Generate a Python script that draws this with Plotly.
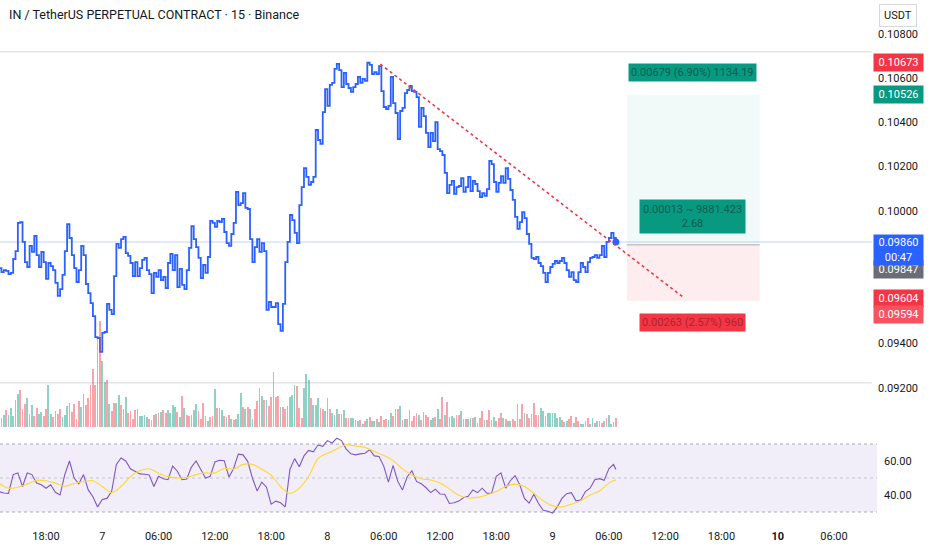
import plotly.graph_objects as go
import pandas as pd

title_text = "IN / TetherUS PERPETUAL CONTRACT · 15 · Binance"

# 15-minute closes
close = [
    0.09742, 0.09724, 0.09733, 0.09729, 0.09715, 0.09720, 0.09783, 0.09819, 0.09946, 0.09950,
    0.09860, 0.09769, 0.09747, 0.09842, 0.09815, 0.09887, 0.09801, 0.09747, 0.09815, 0.09769,
    0.09693, 0.09765, 0.09751, 0.09733, 0.09675, 0.09616, 0.09647, 0.09711, 0.09819, 0.09941,
    0.09878, 0.09801, 0.09742, 0.09679, 0.09733, 0.09842, 0.09801, 0.09670, 0.09629, 0.09584,
    0.09525, 0.09430, 0.09426, 0.09363, 0.09449, 0.09453, 0.09580, 0.09553, 0.09534, 0.09706,
    0.09851, 0.09833, 0.09873, 0.09883, 0.09810, 0.09797, 0.09765, 0.09706, 0.09769, 0.09706,
    0.09742, 0.09779, 0.09788, 0.09733, 0.09715, 0.09629, 0.09720, 0.09702,
    0.09733, 0.09688, 0.09702, 0.09652, 0.09765, 0.09806, 0.09733, 0.09801, 0.09656, 0.09738,
    0.09666, 0.09647, 0.09733, 0.09833, 0.09932, 0.09873, 0.09837, 0.09788, 0.09697, 0.09756,
    0.09720, 0.09792, 0.09955, 0.09946, 0.09928, 0.09955, 0.09950, 0.09964, 0.09905, 0.09855,
    0.09842, 0.09896, 0.09946, 0.10086, 0.10027, 0.10036, 0.10081, 0.10014, 0.10009, 0.09873,
    0.09769, 0.09837, 0.09873, 0.09815, 0.09855, 0.09819, 0.09553, 0.09589, 0.09566, 0.09566,
    0.09584, 0.09489, 0.09458, 0.09580, 0.09769, 0.09860, 0.09982, 0.09959, 0.09901, 0.09855,
    0.10027, 0.10108, 0.10194, 0.10154, 0.10118, 0.10131, 0.10154, 0.10366,
    0.10321, 0.10303, 0.10447, 0.10551, 0.10475, 0.10570, 0.10579, 0.10642, 0.10665, 0.10637,
    0.10560, 0.10624, 0.10574, 0.10556, 0.10538, 0.10560, 0.10574, 0.10606, 0.10579, 0.10597,
    0.10588, 0.10670, 0.10660, 0.10619, 0.10628, 0.10619, 0.10655, 0.10542, 0.10470, 0.10461,
    0.10475, 0.10606, 0.10488, 0.10443, 0.10325, 0.10452, 0.10466, 0.10533, 0.10547,
    0.10565, 0.10542, 0.10538, 0.10515, 0.10380, 0.10466, 0.10429, 0.10353, 0.10289, 0.10353,
    0.10316, 0.10402, 0.10280, 0.10271, 0.10253, 0.10172, 0.10081, 0.10118,
    0.10136, 0.10077, 0.10108, 0.10113, 0.10149, 0.10086, 0.10108,
    0.10154, 0.10090, 0.10136, 0.10122, 0.10090, 0.10063, 0.10081, 0.10068, 0.10099,
    0.10226, 0.10212, 0.10131, 0.10086, 0.10127, 0.10158, 0.10127, 0.10194, 0.10145,
    0.10095, 0.10050, 0.09973, 0.09919, 0.09950, 0.09995, 0.09968, 0.09896, 0.09851,
    0.09788, 0.09783, 0.09792, 0.09765, 0.09751, 0.09720, 0.09679, 0.09720, 0.09747, 0.09761,
    0.09774, 0.09765, 0.09774, 0.09788, 0.09765, 0.09733, 0.09702, 0.09724, 0.09688, 0.09679,
    0.09724, 0.09765, 0.09747, 0.09724, 0.09769, 0.09788, 0.09792, 0.09801, 0.09788,
    0.09801, 0.09842, 0.09792, 0.09860, 0.09878, 0.09901, 0.09878, 0.09860,
]

first_bar = "2025-01-06 13:00"
times = pd.date_range(first_bar, periods=len(close), freq="15min")

# volume (thousands) and bar direction (g = up, r = down)
volume = [
    53, 27, 35, 50, 35, 57, 32, 82, 100, 110,
    55, 70, 87, 40, 65, 32, 58, 38, 45, 33,
    55, 127, 40, 30, 47, 38, 55, 30, 35, 63,
    73, 45, 70, 23, 77, 60, 100, 65, 87, 125,
    173, 125, 266, 317, 197, 134, 140, 70, 47, 73,
    73, 97, 65, 55, 90, 43, 48, 23, 52, 55,
    32, 33, 35, 30, 25, 20, 35, 38, 43, 45,
    50, 42, 50, 43, 67, 60, 45, 30, 92, 58,
    35, 33, 35, 50, 70, 47, 25, 72, 32, 18,
    30, 32, 115, 58, 58, 52, 33, 30, 37, 25,
    22, 23, 38, 103, 60, 55, 60, 53, 25, 55,
    77, 118, 93, 80, 80, 63, 90, 165, 90, 92,
    60, 60, 55, 62, 90, 95, 125, 123, 58, 27,
    118, 160, 140, 87, 67, 67,
    88, 58, 55, 47, 88, 53, 43, 35, 53, 38,
    38, 50, 27, 27, 28, 28, 20, 19, 20, 10,
    17, 23, 29, 17, 17, 25, 15, 33, 20, 25,
    20, 43, 32, 55, 55, 62, 20, 25, 25, 50,
    18, 32, 42, 35, 22, 45, 35, 30, 20, 27,
    30, 55, 25, 90, 37, 75, 30, 33, 28, 35,
    35, 47, 25, 25, 23, 28, 27, 30, 13, 27,
    47, 20, 20, 52, 20, 30, 17, 27, 43, 28,
    25, 18, 19, 25, 17, 70, 25, 70, 43, 40,
    27, 40, 73, 37, 37, 58, 47, 33, 42, 43,
    43, 43, 27, 30, 20, 15, 17, 23, 32, 13,
    30, 17, 10, 10, 17, 27, 8, 28, 12, 18,
    17, 12, 17, 27, 37, 8, 15, 27,
]
vol_dir = list(
    "grgrgggggr" "rrgrgrrggr" "rggrrrrggg" "grrrrggrrr" "rrrrggrgrr"
    "ggrggrrrrg" "ggggrrrgrg" "rrggggrgrg" "rrgggrrrrg" "rrgrrgrgrg"
    "rgggrgrggr" "rggrgrrgrr" "grrggggrrr" "gggrgg"
    "grrggrgggr" "rgrrggggrg" "rgrggrgrrr" "ggrrrgrgrg" "rrrgrrrrgg"
    "rgrrgrgggr" "rggrggrggr" "rgrrggrrrg" "rggrrrrrgr" "rrrrrggrgg"
    "ggggrggrrg" "rrggrrggrg" "grgrgggr"
)

# RSI (every 2nd bar, plus the last bar) and its moving average (every 4th bar, plus last)
rsi = [
    42, 41.2, 41, 52, 53, 45, 53, 52, 47, 46,
    44, 46, 41.6, 40, 52, 60, 50, 46.6, 52, 43,
    39, 33, 37.4, 38, 42.2, 58, 61.8, 60, 55.4, 54,
    52.4, 52.2, 51.8, 45, 51, 49.6, 49, 57, 54, 49,
    49.4, 56.4, 60, 55, 50, 51, 59.4, 60.4, 60.2, 50.6,
    55.6, 64, 63.6, 59.8, 50, 42.4, 47.6, 44.6, 34.6, 36.4,
    35.4, 33, 55, 61.4, 56.6, 63, 66.2, 65.4, 69.4,
    68.6, 72, 70.6, 73.4, 72, 67, 64.2, 63.6, 64.2, 64.6,
    66.6, 63, 62.6, 57, 47.6, 57.4, 48, 43, 50.6, 54.2,
    48, 46.6, 44.4, 41.4, 43.4, 40.6, 40.4, 35, 35.4, 36.4,
    38.4, 39.2, 43, 41.4, 44, 41, 41, 51, 53, 44,
    48.4, 51.4, 46, 38, 35.2, 40.4, 35, 31, 30.4, 29.4,
    33, 38, 40.8, 41.4, 36.6, 37, 42, 44, 49, 49.6,
    48.6, 55.4, 58,
    55,
]
rsi_ma = [
    47, 44, 44.6, 46.4, 48.6, 48.4, 47, 45.2, 46.8, 47.8,
    48.4, 45, 41.4, 45, 50.8, 54.2, 55.4, 52.8, 50.8, 50,
    50.2, 52, 53, 53, 55.6, 55.2, 58, 58, 55.2, 51.6,
    45, 41, 44, 51, 61.4, 64.6, 67, 69.6, 68.8, 68,
    65.6, 63.2, 60.2, 55.4, 51.8, 49.6, 48.8, 47, 43.6, 39.8,
    38.2, 38.6, 40, 42, 45, 46.4, 45, 41, 36.6, 33.6,
    33, 34.6, 36.6, 40, 42.4, 47,
    49,
]
rsi_times = list(times[0:len(times) - 1:2]) + [times[-1]]
ma_times = list(times[0:len(times) - 3:4]) + [times[-1]]

# drawings
trend_times = ["2025-01-08 05:38", "2025-01-09 13:54"]
trend_prices = [0.10664, 0.09611]
pos_times = ["2025-01-09 07:55", "2025-01-09 22:05"]
pos_label_time = "2025-01-09 14:55"
entry_price, target_price, stop_price = 0.09847, 0.10526, 0.09594
hlines = [0.10720, 0.09224]
last_price = 0.09860

price_ticks = [0.108, 0.106, 0.104, 0.102, 0.100, 0.094, 0.092]
rsi_ticks = [60, 40]
x_tick_vals = ["2025-01-06 18:00", "2025-01-07 00:00", "2025-01-07 06:00", "2025-01-07 12:00",
               "2025-01-07 18:00", "2025-01-08 00:00", "2025-01-08 06:00", "2025-01-08 12:00",
               "2025-01-08 18:00", "2025-01-09 00:00", "2025-01-09 06:00", "2025-01-09 12:00",
               "2025-01-09 18:00", "2025-01-10 00:00", "2025-01-10 06:00"]
x_tick_text = ["18:00", "7", "06:00", "12:00", "18:00", "8", "06:00", "12:00", "18:00", "9",
               "06:00", "12:00", "18:00", "<b>10</b>", "06:00"]
x_range = ["2025-01-06 13:05:46", "2025-01-10 10:03"]

W, H = 932, 550
PLOT_R = 872 / W
def py(px):
    return 1 - px / H

FONT = "Roboto"
TXT = "#131722"
GREEN, RED, BLUE = "#089981", "#f23645", "#2962ff"

fig = go.Figure()

# volume
fig.add_trace(go.Bar(
    x=times, y=volume, yaxis="y2",
    marker=dict(color=["rgba(8,153,129,0.45)" if d == "g" else "rgba(242,54,69,0.45)" for d in vol_dir],
                line=dict(width=0)),
    width=680000, hoverinfo="skip",
))
# price step line
fig.add_trace(go.Scatter(x=times, y=close, mode="lines", line=dict(color=BLUE, width=1.8, shape="hv"),
                         hoverinfo="skip"))
fig.add_trace(go.Scatter(x=[times[-1]], y=[close[-1]], mode="markers",
                         marker=dict(color=BLUE, size=7), hoverinfo="skip"))
# trendline
fig.add_trace(go.Scatter(x=pd.to_datetime(trend_times), y=trend_prices, mode="lines",
                         line=dict(color=RED, width=1.6, dash="dot"), hoverinfo="skip"))
# RSI
fig.add_trace(go.Scatter(x=rsi_times, y=rsi, yaxis="y3", mode="lines",
                         line=dict(color="#7e57c2", width=1.1), hoverinfo="skip"))
fig.add_trace(go.Scatter(x=ma_times, y=rsi_ma, yaxis="y3", mode="lines",
                         line=dict(color="#fdd835", width=1.1, shape="spline"), hoverinfo="skip"))

shapes = []
# horizontal drawings
for h in hlines:
    shapes.append(dict(type="line", xref="paper", yref="y", x0=0, x1=PLOT_R, y0=h, y1=h,
                       line=dict(color="#e3e5ea", width=1.6), layer="below"))
shapes.append(dict(type="line", xref="paper", yref="y", x0=0, x1=PLOT_R, y0=last_price, y1=last_price,
                   line=dict(color="rgba(41,98,255,0.28)", width=1), layer="below"))
# long position zones
shapes.append(dict(type="rect", xref="x", yref="y", x0=pos_times[0], x1=pos_times[1],
                   y0=entry_price, y1=target_price, fillcolor="rgba(8,153,129,0.05)",
                   line=dict(width=0), layer="below"))
shapes.append(dict(type="rect", xref="x", yref="y", x0=pos_times[0], x1=pos_times[1],
                   y0=stop_price, y1=entry_price, fillcolor="rgba(242,54,69,0.09)",
                   line=dict(width=0), layer="below"))
shapes.append(dict(type="line", xref="x", yref="y", x0=pos_times[0], x1=pos_times[1],
                   y0=entry_price, y1=entry_price, line=dict(color="#b8a8a8", width=1)))
# RSI band
shapes.append(dict(type="rect", xref="paper", yref="y3", x0=0, x1=877 / W, y0=30, y1=70,
                   fillcolor="rgba(126,87,194,0.1)", line=dict(width=0), layer="below"))
for lv, col in [(70, "#a9acb5"), (50, "#c3c6ce"), (30, "#a9acb5")]:
    shapes.append(dict(type="line", xref="paper", yref="y3", x0=0, x1=877 / W, y0=lv, y1=lv,
                       line=dict(color=col, width=1, dash="dot"), layer="below"))

ann = []
ann.append(dict(text=title_text, xref="paper", yref="paper", x=7 / W, y=py(15), xanchor="left",
                yanchor="middle", showarrow=False, font=dict(family=FONT, size=12.5, color=TXT)))
ann.append(dict(text="USDT", xref="paper", yref="paper", x=898 / W, y=py(16), xanchor="center",
                yanchor="middle", showarrow=False, font=dict(family=FONT, size=11, color=TXT),
                bordercolor="#d6d8de", borderwidth=1, borderpad=4))
for t in price_ticks:
    ann.append(dict(text=f"{t:.5f}", xref="paper", yref="y", x=898 / W, y=t, xanchor="center",
                    yanchor="middle", showarrow=False, font=dict(family=FONT, size=11, color=TXT)))
for t in rsi_ticks:
    ann.append(dict(text=f"{t:.2f}", xref="paper", yref="y3", x=898 / W, y=t, xanchor="center",
                    yanchor="middle", showarrow=False, font=dict(family=FONT, size=11, color=TXT)))

def tag(text, price, color, shift=0, h=15, anchor="middle"):
    return dict(text=text, xref="paper", yref="y", x=898 / W, y=price, yshift=shift, xanchor="center",
                yanchor=anchor, showarrow=False, bgcolor=color, width=47, height=h,
                font=dict(family=FONT, size=11, color="white"), borderpad=1)

ann.append(tag("0.10673", 0.10673, RED))
ann.append(tag(f"{target_price:.5f}", target_price, GREEN))
ann.append(tag(f"{stop_price + 0.0001:.5f}", stop_price + 0.0001, RED))
ann.append(tag(f"{stop_price:.5f}", stop_price, "#f7525f", shift=-14))
ann.append(tag(f"{entry_price:.5f}", entry_price, "#6a6d78", shift=-25))
ann.append(tag(f"{last_price:.5f}<br>00:47", last_price, BLUE, shift=8, h=28, anchor="top"))

# position tool labels
ann.append(dict(text="0.00679 (6.90%) 1134.19", xref="x", yref="y", x=pos_label_time, y=target_price,
                yshift=22, showarrow=False, bgcolor=GREEN, borderpad=2,
                font=dict(family=FONT, size=11, color="#0b5e50")))
ann.append(dict(text="0.00013 ~ 9881.423<br>2.68", xref="x", yref="y", x=pos_label_time, y=entry_price,
                yshift=28, showarrow=False, bgcolor=GREEN, borderpad=3,
                font=dict(family=FONT, size=11, color="#0b5e50")))
ann.append(dict(text="0.00263 (2.57%) 960", xref="x", yref="y", x=pos_label_time, y=stop_price,
                yshift=-22, showarrow=False, bgcolor=RED, borderpad=2,
                font=dict(family=FONT, size=11, color="#b0222d")))

fig.update_layout(
    width=W, height=H, margin=dict(l=0, r=0, t=0, b=0),
    paper_bgcolor="white", plot_bgcolor="rgba(0,0,0,0)", showlegend=False,
    shapes=shapes, annotations=ann, bargap=0,
    xaxis=dict(domain=[0, PLOT_R], range=x_range, anchor="y3", showgrid=False, zeroline=False,
               tickvals=x_tick_vals, ticktext=x_tick_text, ticks="", showline=False,
               tickfont=dict(family=FONT, size=11, color=TXT), ticklabelstandoff=8),
    yaxis=dict(domain=[py(430), 1], range=[0.0901017, 0.1095367], anchor="x",
               showgrid=False, zeroline=False, showticklabels=False),
    yaxis2=dict(domain=[py(427), py(300)], range=[0, 381], anchor="x",
                showgrid=False, zeroline=False, showticklabels=False),
    yaxis3=dict(domain=[py(520), py(436)], range=[25.294, 74.706], anchor="x",
                showgrid=False, zeroline=False, showticklabels=False),
)

fig.write_html("out.html", config={"displayModeBar": False},
               post_script="document.body.style.margin='0px';")
